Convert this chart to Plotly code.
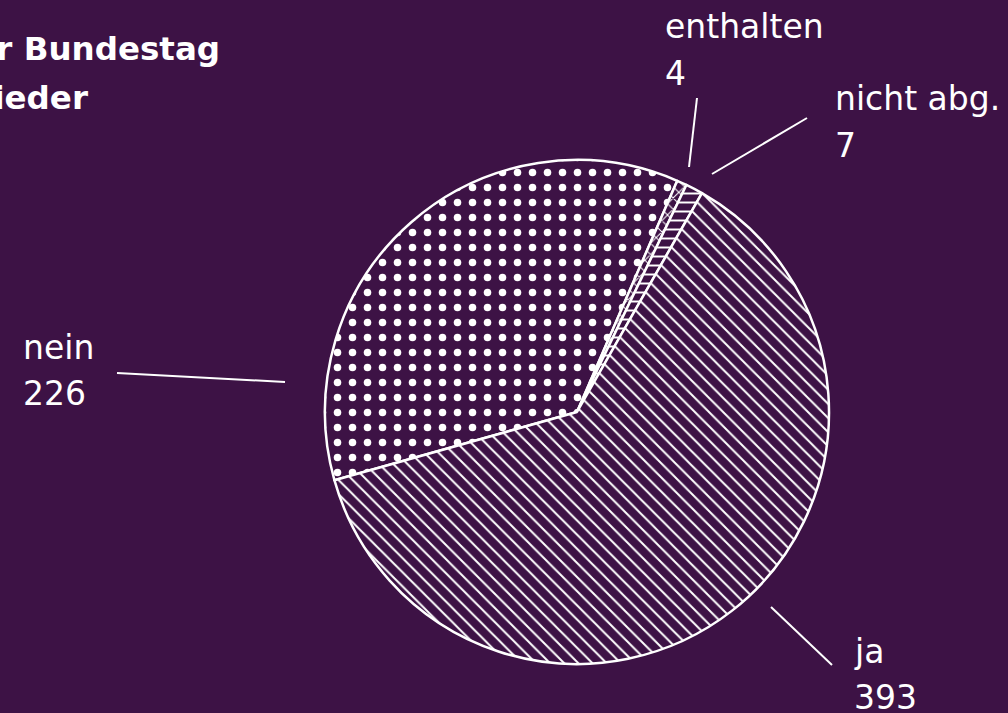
import plotly.graph_objects as go

W, H = 1008, 713
BG = "#3d1245"
FG = "#ffffff"
FONT = "DejaVu Sans"

# data (clockwise order starting at the nein slice)
labels = ["nein", "enthalten", "nicht abg.", "ja"]
values = [226, 4, 7, 393]
patterns = [".", "x", "-", "\\"]
pattern_sizes = [15, 8, 9, 10]
pattern_solidity = [0.2, 0.25, 0.22, 0.2]

title_lines = ["Abstimmung der Bundestag", "Mitglieder"]

def px(x):
    return x / W

def py(y):
    return 1 - y / H

fig = go.Figure()
fig.add_trace(go.Pie(
    labels=labels,
    values=values,
    sort=False,
    direction="clockwise",
    rotation=-105.7,
    textinfo="none",
    hoverinfo="label+value",
    showlegend=False,
    domain=dict(x=[px(325), px(829)], y=[py(664), py(160)]),
    marker=dict(
        colors=[BG] * len(labels),
        line=dict(color=FG, width=2.5),
        pattern=dict(
            shape=patterns,
            fgcolor=FG,
            bgcolor=BG,
            fgopacity=1,
            size=pattern_sizes,
            solidity=pattern_solidity,
            fillmode="replace",
        ),
    ),
))

annotations = []
# title (clipped at left edge as in reference)
annotations.append(dict(text="<b>" + title_lines[0] + "</b>", x=px(222), y=py(49),
                        xanchor="right", yanchor="middle", showarrow=False,
                        font=dict(family=FONT, size=32.5, color=FG)))
annotations.append(dict(text="<b>" + title_lines[1] + "</b>", x=px(90), y=py(98),
                        xanchor="right", yanchor="middle", showarrow=False,
                        font=dict(family=FONT, size=32.5, color=FG)))

# label positions: (x_left, y_name, y_value)
label_pos = {
    "enthalten": (663, 27, 73),
    "nicht abg.": (833, 99, 145),
    "nein": (21, 347, 393),
    "ja": (852, 651, 697),
}
for lab, val in zip(labels, values):
    x, yn, yv = label_pos[lab]
    annotations.append(dict(text=lab, x=px(x), y=py(yn), xanchor="left", yanchor="middle",
                            showarrow=False, font=dict(family=FONT, size=33, color=FG)))
    annotations.append(dict(text=str(val), x=px(x), y=py(yv), xanchor="left", yanchor="middle",
                            showarrow=False, font=dict(family=FONT, size=33, color=FG)))

# connector lines
connectors = {
    "enthalten": ((697, 98), (689, 167)),
    "nicht abg.": ((807, 118), (712, 174)),
    "nein": ((117, 373), (285, 382)),
    "ja": ((771, 607), (832, 665)),
}
shapes = []
for lab in labels:
    (x0, y0), (x1, y1) = connectors[lab]
    shapes.append(dict(type="line", xref="paper", yref="paper",
                       x0=px(x0), y0=py(y0), x1=px(x1), y1=py(y1),
                       line=dict(color=FG, width=2)))

fig.update_layout(
    width=W, height=H,
    margin=dict(l=0, r=0, t=0, b=0),
    paper_bgcolor=BG,
    plot_bgcolor=BG,
    annotations=annotations,
    shapes=shapes,
)

fig.write_html("out.html")
